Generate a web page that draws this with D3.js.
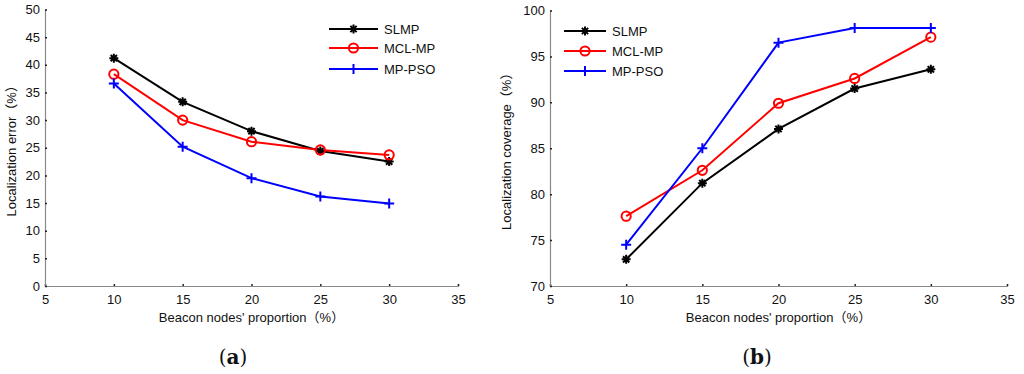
<!DOCTYPE html>
<html><head><meta charset="utf-8">
<script src="https://cdn.jsdelivr.net/npm/d3@7"></script>
<style>
body{margin:0;background:#fff;}
svg{display:block;font-family:"Liberation Sans",Arial,"Noto Sans CJK SC",sans-serif;}
</style></head>
<body><svg id="c" width="1024" height="374"></svg>
<script>
const xValues = [10, 15, 20, 25, 30];
const xTicks = [5, 10, 15, 20, 25, 30, 35];
const seriesNames = ["SLMP", "MCL-MP", "MP-PSO"];
const seriesColors = ["#000000", "#ff0000", "#0000ff"];
// (a) Localization error
const errSLMP = [41.2, 33.3, 28.0, 24.4, 22.5];
const errMCL = [38.3, 30.0, 26.1, 24.6, 23.7];
const errPSO = [36.6, 25.2, 19.5, 16.2, 14.9];
const errTicks = [0, 5, 10, 15, 20, 25, 30, 35, 40, 45, 50];
// (b) Localization coverage
const covSLMP = [72.9, 81.2, 87.1, 91.5, 93.6];
const covMCL = [77.6, 82.6, 89.9, 92.6, 97.1];
const covPSO = [74.5, 85.0, 96.5, 98.1, 98.1];
const covTicks = [70, 75, 80, 85, 90, 95, 100];

const svg = d3.select("#c");
const FONT = "Liberation Sans, Arial, Noto Sans CJK SC, sans-serif";

function marker(g, type, x, y, color) {
  if (type === 0) {
    const s = 4.5;
    g.append("path").attr("stroke", color).attr("stroke-width", 2).attr("fill", "none")
      .attr("d", `M${x-s},${y}L${x+s},${y}M${x},${y-s}L${x},${y+s}M${x-s*0.7},${y-s*0.7}L${x+s*0.7},${y+s*0.7}M${x-s*0.7},${y+s*0.7}L${x+s*0.7},${y-s*0.7}`);
  } else if (type === 1) {
    g.append("circle").attr("cx", x).attr("cy", y).attr("r", 4.6).attr("fill", "none").attr("stroke", color).attr("stroke-width", 2);
  } else {
    const s = 5;
    g.append("path").attr("stroke", color).attr("stroke-width", 2).attr("fill", "none")
      .attr("d", `M${x-s},${y}L${x+s},${y}M${x},${y-s}L${x},${y+s}`);
  }
}

function panel(opts) {
  const x = d3.scaleLinear().domain([5, 35]).range([opts.left, opts.right]);
  const y = d3.scaleLinear().domain(opts.domain).range([opts.bottom, opts.top]);
  const g = svg.append("g");
  const xa = g.append("g").attr("transform", `translate(0,${opts.bottom})`)
    .call(d3.axisBottom(x).tickValues(xTicks).tickSize(-2).tickPadding(6).tickFormat(d3.format("d")));
  const ya = g.append("g").attr("transform", `translate(${opts.left},0)`)
    .call(d3.axisLeft(y).tickValues(opts.ticks).tickSize(-2).tickPadding(5).tickFormat(d3.format("d")));
  [xa, ya].forEach(a => {
    a.select(".domain").attr("stroke", "#8a8a8a").attr("stroke-width", 1.2);
    a.selectAll(".tick line").attr("stroke", "#222").attr("stroke-width", 1.5);
    a.selectAll(".tick text").attr("font-size", 13).attr("fill", "#111").attr("font-family", FONT);
  });
  xa.selectAll(".tick text").attr("dy", "0.9em");
  const line = d3.line().x((d, i) => x(xValues[i])).y(d => y(d));
  opts.series.forEach((s, k) => {
    g.append("path").datum(s).attr("d", line).attr("fill", "none")
      .attr("stroke", seriesColors[k]).attr("stroke-width", 2);
  });
  opts.series.forEach((s, k) => {
    s.forEach((v, i) => marker(g, k, x(xValues[i]), y(v), seriesColors[k]));
  });
  seriesNames.forEach((n, k) => {
    const ly = opts.legY[k];
    g.append("line").attr("x1", opts.legX1).attr("x2", opts.legX2).attr("y1", ly).attr("y2", ly)
      .attr("stroke", seriesColors[k]).attr("stroke-width", 2);
    marker(g, k, (opts.legX1 + opts.legX2) / 2, ly, seriesColors[k]);
    g.append("text").attr("x", opts.legX2 + 6).attr("y", ly).attr("dy", "0.36em")
      .attr("font-size", 13).attr("fill", "#111").attr("font-family", FONT).text(n);
  });
  g.append("text").attr("x", (opts.left + opts.right) / 2).attr("y", opts.bottom + 36)
    .attr("text-anchor", "middle").attr("font-size", 13).attr("fill", "#111").attr("font-family", FONT)
    .text("Beacon nodes' proportion（%）");
  g.append("text").attr("transform", `translate(${opts.yLabelX},${(opts.top + opts.bottom) / 2}) rotate(-90)`)
    .attr("text-anchor", "middle").attr("font-size", 13).attr("fill", "#111").attr("font-family", FONT)
    .text(opts.yLabel);
  g.append("text").attr("x", opts.capX).attr("y", 364).attr("text-anchor", "middle")
    .attr("font-size", 20).attr("font-family", "DejaVu Serif, Liberation Serif, serif")
    .attr("fill", "#111")
    .html(`(<tspan font-weight="bold">${opts.cap}</tspan>)`);
}

panel({left: 45, right: 458, top: 9.5, bottom: 286, domain: [0, 50], ticks: errTicks,
  series: [errSLMP, errMCL, errPSO], legX1: 329, legX2: 378, legY: [29, 48, 69],
  yLabel: "Localization error（%）", yLabelX: 16, cap: "a", capX: 233});
panel({left: 550, right: 1007, top: 10.5, bottom: 286, domain: [70, 100], ticks: covTicks,
  series: [covSLMP, covMCL, covPSO], legX1: 564, legX2: 606, legY: [31, 51, 71],
  yLabel: "Localization coverage（%）", yLabelX: 511, cap: "b", capX: 757});
</script></body></html>
